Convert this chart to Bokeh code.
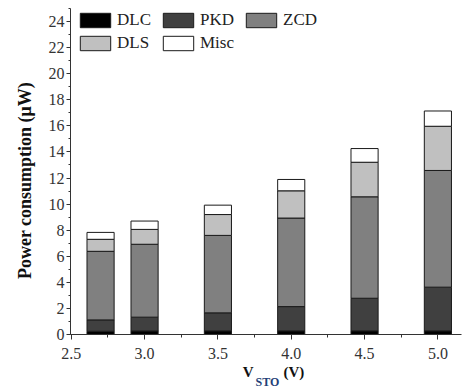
from bokeh.plotting import figure
from bokeh.models import (ColumnDataSource, Range1d, SingleIntervalTicker, PrintfTickFormatter,
                          LinearAxis, FixedTicker)
from bokeh.embed import file_html
from bokeh.resources import INLINE

# ---- data ----
v_sto = [2.7, 3.0, 3.5, 4.0, 4.5, 5.0]
dlc = [0.25, 0.27, 0.28, 0.28, 0.28, 0.28]
pkd = [0.87, 1.06, 1.38, 1.86, 2.50, 3.35]
zcd = [5.26, 5.59, 5.94, 6.79, 7.78, 8.95]
dls = [0.92, 1.14, 1.60, 2.09, 2.65, 3.39]
misc = [0.53, 0.64, 0.72, 0.87, 1.05, 1.17]

parts = ["DLC", "PKD", "ZCD", "DLS", "Misc"]
colors = ["#000000", "#404040", "#808080", "#c0c0c0", "#ffffff"]

source = ColumnDataSource(dict(x=v_sto, DLC=dlc, PKD=pkd, ZCD=zcd, DLS=dls, Misc=misc))

SERIF = "Liberation Serif"
NB = "\u00a0"

p = figure(width=462, height=391, output_backend="svg", toolbar_location=None,
           x_range=Range1d(2.495, 5.161), y_range=Range1d(0, 25),
           min_border_left=70, min_border_right=1, min_border_top=8, min_border_bottom=56)
p.outline_line_color = None
p.xgrid.visible = False
p.ygrid.visible = False

p.vbar_stack(parts, x="x", width=0.185, source=source, fill_color=colors,
             line_color="#1a1a1a", line_width=1, legend_label=parts)

# axes
for ax in (p.xaxis[0], p.yaxis[0]):
    ax.axis_line_color = "#333333"
    ax.major_tick_line_color = "#333333"
    ax.minor_tick_line_color = "#333333"
    ax.major_tick_in = 0
    ax.minor_tick_in = 0
    ax.major_label_text_font = SERIF
    ax.major_label_text_font_size = "16px"
    ax.major_label_text_color = "#333333"
    ax.axis_label_text_font = SERIF
    ax.axis_label_text_font_style = "bold"
    ax.axis_label_text_color = "#111111"

p.xaxis.ticker = SingleIntervalTicker(interval=0.5, num_minor_ticks=2)
p.xaxis.formatter = PrintfTickFormatter(format="%.1f")
p.xaxis.major_tick_out = 5
p.xaxis.minor_tick_out = 3
p.xaxis.major_label_standoff = 8
p.xaxis.axis_label = NB * 4 + "V" + NB * 8 + "(V)"
p.xaxis.axis_label_text_font_size = "15px"
p.xaxis.axis_label_standoff = 2

p.yaxis.ticker = SingleIntervalTicker(interval=2, num_minor_ticks=2)
p.yaxis.formatter = PrintfTickFormatter(format="%d")
p.yaxis.major_tick_out = 4
p.yaxis.minor_tick_out = 2
p.yaxis.major_label_standoff = 2
p.yaxis.axis_label = "Power consumption (\u03bcW)" + NB * 4
p.yaxis.axis_label_text_font_size = "18px"
p.yaxis.axis_label_standoff = 11

# subscript of the x title, carried by an extra (invisible) axis below
sub = LinearAxis(ticker=FixedTicker(ticks=[]), axis_line_color=None,
                 major_tick_line_color=None, minor_tick_line_color=None,
                 major_tick_out=0, minor_tick_out=0, major_label_standoff=0,
                 axis_label=NB + "STO", axis_label_standoff=-8,
                 axis_label_text_font=SERIF, axis_label_text_font_size="12px",
                 axis_label_text_font_style="bold", axis_label_text_color="#243f78")
p.add_layout(sub, "below")

lg = p.legend[0]
lg.orientation = "horizontal"
lg.ncols = 3
lg.location = (6, 281)
lg.padding = 0
lg.margin = 0
lg.spacing = 3
lg.border_line_color = None
lg.background_fill_alpha = 0
lg.glyph_width = 38
lg.glyph_height = 18
lg.label_height = 18
lg.label_width = 39
lg.label_standoff = 3
lg.label_text_font = SERIF
lg.label_text_font_size = "17px"
lg.label_text_color = "#222222"

open("out.html", "w").write(file_html(p, INLINE))
